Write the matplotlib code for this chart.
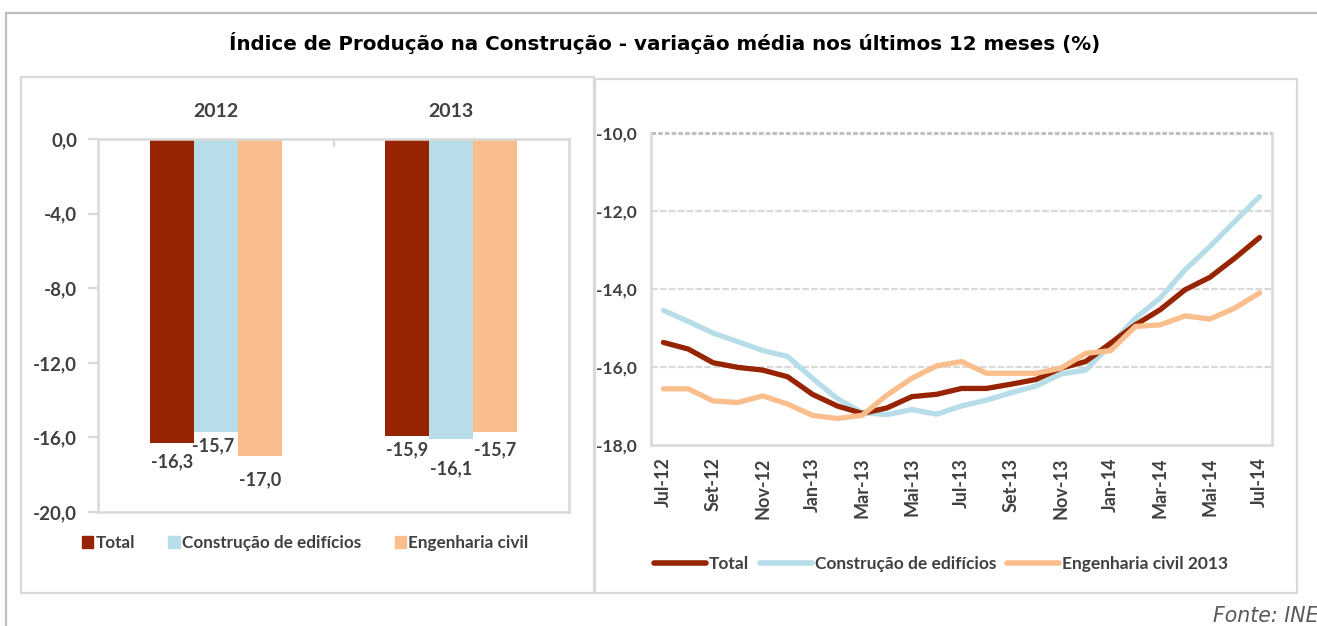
import matplotlib
matplotlib.use("Agg")
import matplotlib.pyplot as plt
from matplotlib.patches import Rectangle
from matplotlib.lines import Line2D
from matplotlib.ticker import FuncFormatter

# ---------------- data ----------------
title = "Índice de Produção na Construção - variação média nos últimos 12 meses (%)"
source = "Fonte: INE"

bar_years = ["2012", "2013"]
bar_series = ["Total", "Construção de edifícios", "Engenharia civil"]
bar_total = [-16.3, -15.9]
bar_edificios = [-15.7, -16.1]
bar_engenharia = [-17.0, -15.7]

months = ["Jul-12", "Ago-12", "Set-12", "Out-12", "Nov-12", "Dez-12",
          "Jan-13", "Fev-13", "Mar-13", "Abr-13", "Mai-13", "Jun-13",
          "Jul-13", "Ago-13", "Set-13", "Out-13", "Nov-13", "Dez-13",
          "Jan-14", "Fev-14", "Mar-14", "Abr-14", "Mai-14", "Jun-14", "Jul-14"]
line_series = ["Total", "Construção de edifícios", "Engenharia civil 2013"]
line_total = [-15.37, -15.54, -15.89, -16.01, -16.08, -16.25, -16.70, -17.00,
              -17.19, -17.05, -16.76, -16.70, -16.55, -16.55, -16.44, -16.32,
              -16.03, -15.86, -15.39, -14.92, -14.53, -14.02, -13.70, -13.21, -12.68]
line_edificios = [-14.55, -14.83, -15.13, -15.35, -15.58, -15.73, -16.29, -16.81,
                  -17.17, -17.22, -17.09, -17.21, -17.00, -16.85, -16.66, -16.49,
                  -16.18, -16.08, -15.43, -14.75, -14.23, -13.51, -12.91, -12.27, -11.63]
line_engenharia = [-16.56, -16.56, -16.87, -16.91, -16.74, -16.95, -17.24, -17.32,
                   -17.24, -16.72, -16.29, -15.97, -15.86, -16.16, -16.16, -16.16,
                   -16.03, -15.65, -15.58, -14.96, -14.92, -14.69, -14.77, -14.49, -14.10]

# ---------------- style ----------------
C_TOTAL = "#962400"
C_EDIF = "#b7dde8"
C_ENG = "#f9be8c"
GRID = "#d9d9d9"
TXT = "#404040"
LAT = "Lato"
# per-series label offsets below the bar end (points), one per year
label_dy = [[-13.7, -10.4], [-10.0, -20.9], [-17.3, -13.0]]
label_dx = [[0, 0], [-2, 0], [0, 0]]

W, H = 1317, 626
fig = plt.figure(figsize=(W / 100, H / 100), dpi=100)
fig.patch.set_facecolor("white")


def fx(px):
    return px / W


def fy(py):
    return 1 - py / H


# outer frame lines
fig.add_artist(Line2D([fx(6), fx(W)], [fy(13), fy(13)], color="#bfbfbf", lw=1.6))
fig.add_artist(Line2D([fx(6), fx(6)], [fy(13), fy(H)], color="#bfbfbf", lw=1.6))
# panel boxes
fig.add_artist(Rectangle((fx(21), fy(593)), fx(594) - fx(21), fy(77) - fy(593),
                         fill=False, edgecolor=GRID, lw=1.6))
fig.add_artist(Rectangle((fx(595), fy(593)), fx(1297) - fx(595), fy(79) - fy(593),
                         fill=False, edgecolor=GRID, lw=1.6))

fig.text(fx(665), fy(43), title, ha="center", va="center", fontsize=14.3,
         fontweight="bold", family="DejaVu Sans", color="black")
fig.text(fx(1213), fy(616), source, ha="left", va="center", fontsize=14.8,
         style="italic", family="DejaVu Sans", color="#595959")

comma = FuncFormatter(lambda v, p: f"{v:.1f}".replace(".", ","))

# ---------------- left: bar chart ----------------
ax1 = fig.add_axes([fx(98), fy(512), fx(569) - fx(98), fy(139) - fy(512)])
bw = 0.187
xs = list(range(len(bar_years)))
vals = [bar_total, bar_edificios, bar_engenharia]
cols = [C_TOTAL, C_EDIF, C_ENG]
for k, (v, c, name) in enumerate(zip(vals, cols, bar_series)):
    pos = [x + (k - 1) * bw for x in xs]
    bars = ax1.bar(pos, v, width=bw, color=c, label=name, zorder=2)
    for j, (b, val) in enumerate(zip(bars, v)):
        ax1.annotate(f"{val:.1f}".replace(".", ","),
                     (b.get_x() + b.get_width() / 2, val),
                     xytext=(label_dx[k][j], label_dy[k][j]),
                     textcoords="offset points",
                     ha="center", va="center", fontsize=13, fontweight="bold",
                     family=LAT, color=TXT)
ax1.set_xlim(-0.5, 1.5)
ax1.set_ylim(-20, 0)
ax1.set_yticks([0, -4, -8, -12, -16, -20])
ax1.yaxis.set_major_formatter(comma)
ax1.xaxis.tick_top()
ax1.set_xticks(xs)
ax1.set_xticklabels(bar_years)
ax1.set_xticks([0.5], minor=True)
ax1.tick_params(axis="x", which="major", length=0, pad=14, labelsize=14)
ax1.tick_params(axis="x", which="minor", length=6, width=1.6, color=GRID,
                direction="in", top=True, bottom=False)
ax1.tick_params(axis="y", length=7, width=1.6, color=GRID, pad=8, labelsize=13.5)
for lab in ax1.get_xticklabels() + ax1.get_yticklabels():
    lab.set_family(LAT)
    lab.set_fontweight("bold")
    lab.set_color(TXT)
for s in ax1.spines.values():
    s.set_color(GRID)
    s.set_linewidth(1.8)

h1 = [Rectangle((0, 0), 1, 1, color=c) for c in cols]
fig.legend(h1, bar_series, loc="center left", bbox_to_anchor=(fx(82), fy(543)),
           ncol=3, frameon=False, handlelength=0.65, handleheight=0.65,
           handletextpad=0.15, columnspacing=1.95, borderaxespad=0, borderpad=0,
           prop={"family": LAT, "weight": "bold", "size": 12.3},
           labelcolor=TXT)

# ---------------- right: line chart ----------------
ax2 = fig.add_axes([fx(651), fy(445), fx(1272) - fx(651), fy(133) - fy(445)])
xi = list(range(len(months)))
ax2.plot(xi, line_total, color=C_TOTAL, lw=3.8, solid_capstyle="round", zorder=3)
ax2.plot(xi, line_edificios, color=C_EDIF, lw=3.8, solid_capstyle="round", zorder=2)
ax2.plot(xi, line_engenharia, color=C_ENG, lw=3.8, solid_capstyle="round", zorder=4)
ax2.set_xlim(-0.5, len(months) - 0.5)
ax2.set_ylim(-18, -10)
ax2.set_yticks([-10, -12, -14, -16, -18])
ax2.yaxis.set_major_formatter(comma)
ax2.set_xticks(xi[::2])
ax2.set_xticklabels(months[::2], rotation=90)
ax2.tick_params(axis="x", length=0, pad=9, labelsize=13)
ax2.tick_params(axis="y", length=0, pad=10, labelsize=12.5)
for lab in ax2.get_xticklabels() + ax2.get_yticklabels():
    lab.set_family(LAT)
    lab.set_fontweight("bold")
    lab.set_color(TXT)
for yv in [-12, -14, -16]:
    ax2.axhline(yv, color=GRID, lw=1.6, ls=(0, (3, 1)), zorder=1)
ax2.axhline(-10, color="#c0c0c0", lw=2.2, ls=(0, (1.5, 0.7)), zorder=1, clip_on=False)
ax2.spines["top"].set_visible(False)
for k in ["left", "right", "bottom"]:
    ax2.spines[k].set_color(GRID)
    ax2.spines[k].set_linewidth(1.8)

h2 = [Line2D([0], [0], color=c, lw=4, solid_capstyle="round") for c in cols]
fig.legend(h2, line_series, loc="center left", bbox_to_anchor=(fx(654), fy(564)),
           ncol=3, frameon=False, handlelength=3.0, handletextpad=0.18,
           columnspacing=0.6, borderaxespad=0, borderpad=0,
           prop={"family": LAT, "weight": "bold", "size": 12.5},
           labelcolor=TXT)

fig.savefig("out.png", dpi=100, facecolor="white")
